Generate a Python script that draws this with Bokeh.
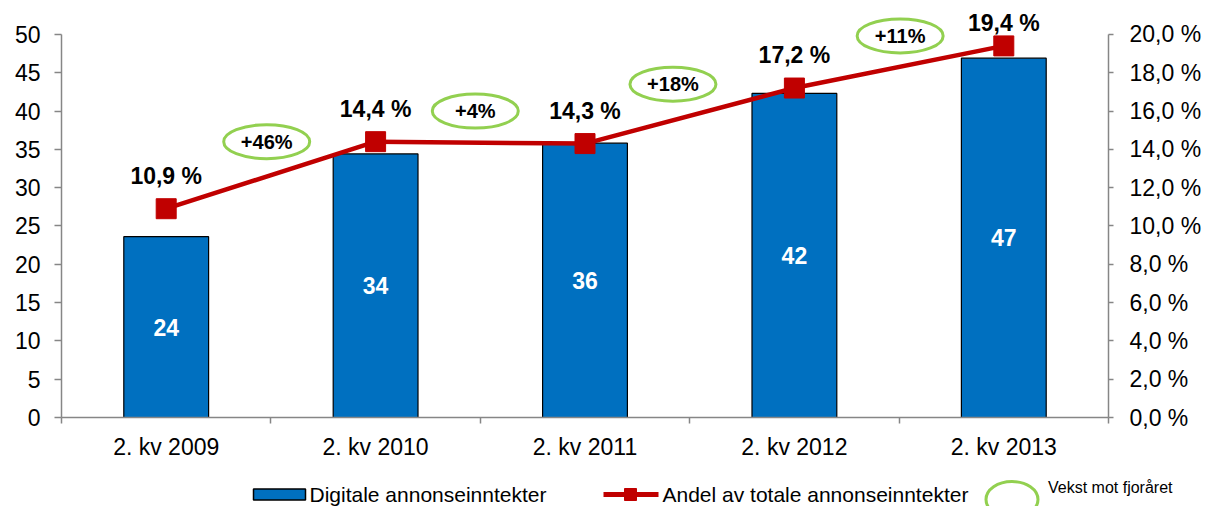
from bokeh.plotting import figure
from bokeh.models import (Range1d, LinearAxis, FixedTicker, ColumnDataSource, Div)
from bokeh.layouts import column, row
from bokeh.core.properties import value
from bokeh.embed import file_html
from bokeh.resources import INLINE

# ---- data ----
categories = ["2. kv 2009", "2. kv 2010", "2. kv 2011", "2. kv 2012", "2. kv 2013"]
revenue = [23.6, 34.4, 35.8, 42.3, 46.9]
revenue_labels = ["24", "34", "36", "42", "47"]
share = [10.9, 14.4, 14.3, 17.2, 19.4]
share_labels = ["10,9 %", "14,4 %", "14,3 %", "17,2 %", "19,4 %"]
growth_labels = ["+46%", "+4%", "+18%", "+11%"]
# annotation anchor positions (x in category units, y in left-axis units)
growth_x = [1.48, 2.476, 3.42, 4.505]
growth_y = [36.0, 40.0, 43.5, 49.8]
left_ticks = [0, 5, 10, 15, 20, 25, 30, 35, 40, 45, 50]
right_ticks = [0, 2, 4, 6, 8, 10, 12, 14, 16, 18, 20]

FONT = "Liberation Sans"
BLUE = "#0070C0"
RED = "#C00000"
GREEN = "#92D050"
GREY = "#868686"

xs = [i + 1 for i in range(len(categories))]
YMAX = 53.25
W = 1204
BL, BR = 61, 96

p = figure(width=W, height=462, output_backend="svg", toolbar_location=None,
           x_range=Range1d(0.5, 5.5), y_range=Range1d(0, YMAX),
           min_border_left=BL, min_border_right=BR, min_border_top=9, min_border_bottom=43,
           y_axis_location=None, x_axis_location=None)
p.outline_line_color = None
p.grid.visible = False
p.background_fill_color = "white"

p.extra_y_ranges = {"pct": Range1d(0, YMAX * 0.4)}

# x axis
xaxis = LinearAxis(ticker=FixedTicker(ticks=xs, minor_ticks=[0.5, 1.5, 2.5, 3.5, 4.5, 5.5]),
                   major_label_overrides={x: c for x, c in zip(xs, categories)})
xaxis.major_tick_out = 0
xaxis.major_tick_in = 0
xaxis.minor_tick_out = 6
xaxis.minor_tick_in = 0
xaxis.minor_tick_line_color = GREY
xaxis.axis_line_color = GREY
xaxis.axis_line_width = 1.5
xaxis.minor_tick_line_width = 1.5
xaxis.major_label_standoff = 10
xaxis.major_label_text_font = FONT
xaxis.major_label_text_font_size = "23px"
xaxis.major_label_text_color = "black"
p.add_layout(xaxis, "below")

# left axis
laxis = LinearAxis(ticker=FixedTicker(ticks=left_ticks), bounds=(0, 50))
laxis.major_tick_out = 7
laxis.major_tick_in = 0
laxis.minor_tick_line_color = None
laxis.axis_line_color = GREY
laxis.axis_line_width = 1.5
laxis.major_tick_line_color = GREY
laxis.major_tick_line_width = 1.5
laxis.major_label_standoff = 14
laxis.major_label_text_font = FONT
laxis.major_label_text_font_size = "23px"
laxis.major_label_text_color = "black"
p.add_layout(laxis, "left")

# right axis
raxis = LinearAxis(y_range_name="pct", ticker=FixedTicker(ticks=right_ticks), bounds=(0, 20),
                   major_label_overrides={t: ("%.1f %%" % t).replace(".", ",") for t in right_ticks})
raxis.major_tick_out = 5
raxis.major_tick_in = 0
raxis.minor_tick_line_color = None
raxis.axis_line_color = GREY
raxis.axis_line_width = 1.5
raxis.major_tick_line_color = GREY
raxis.major_tick_line_width = 1.5
raxis.major_label_standoff = 16
raxis.major_label_text_font = FONT
raxis.major_label_text_font_size = "23px"
raxis.major_label_text_color = "black"
p.add_layout(raxis, "right")

src = ColumnDataSource(dict(x=xs, rev=revenue, half=[v / 2 for v in revenue], rlab=revenue_labels,
                            share=share, slab=share_labels,
                            soff=[-33, -33, -33, -33, -23]))

p.vbar(x="x", top="rev", width=0.405, source=src, fill_color=BLUE, line_color="black", line_width=1.2)
p.text(x="x", y="half", text="rlab", source=src, text_color="white", text_font=value(FONT),
       text_font_style="bold", text_font_size="23px", text_align="center", text_baseline="middle")

p.line(x="x", y="share", source=src, y_range_name="pct", line_color=RED, line_width=4.5)
p.scatter(x="x", y="share", source=src, y_range_name="pct", marker="square", size=20,
          fill_color=RED, line_color=RED)
p.text(x="x", y="share", text="slab", source=src, y_range_name="pct", y_offset="soff",
       text_color="black", text_font=value(FONT), text_font_style="bold", text_font_size="23px",
       text_align="center", text_baseline="middle")

gsrc = ColumnDataSource(dict(x=growth_x, y=growth_y, t=growth_labels))
p.ellipse(x="x", y="y", width=86, height=34, width_units="screen", height_units="screen",
          source=gsrc, fill_color=None, line_color=GREEN, line_width=3)
p.text(x="x", y="y", text="t", source=gsrc, text_color="black", text_font=value(FONT),
       text_font_style="bold", text_font_size="20px", text_align="center", text_baseline="middle")

# ---- legend strip (x in page pixels) ----
LH = 44
LW = 1040
lg = figure(width=LW, height=LH, output_backend="svg", toolbar_location=None,
            x_range=Range1d(0, LW), y_range=Range1d(0, LH),
            min_border=0, x_axis_location=None, y_axis_location=None)
lg.outline_line_color = None
lg.grid.visible = False
lg.rect(x=[279], y=[12], width=52, height=11, fill_color=BLUE, line_color="black", line_width=1.5)
lg.text(x=[309], y=[12], text=["Digitale annonseinntekter"], text_font=value(FONT),
        text_font_size="21px", text_baseline="middle", text_color="black")
lg.line(x=[603, 658], y=[12, 12], line_color=RED, line_width=5)
lg.scatter(x=[630], y=[12], marker="square", size=12, fill_color=RED, line_color=RED)
lg.text(x=[662], y=[12], text=["Andel av totale annonseinntekter"], text_font=value(FONT),
        text_font_size="21px", text_baseline="middle", text_color="black")
lg.ellipse(x=[1011.5], y=[7], width=52, height=36, fill_color=None, line_color=GREEN, line_width=3)

note = Div(text="Vekst mot fjoråret", width=W - LW, height=LH, margin=(0, 0, 0, 0),
           styles={"font-family": FONT, "font-size": "16px", "color": "black",
                   "padding-left": "8px", "padding-top": "16px", "line-height": "20px",
                   "white-space": "nowrap", "box-sizing": "border-box"})

layout = column(p, row(lg, note, spacing=0), spacing=0)
open("out.html", "w").write(file_html(layout, INLINE))
